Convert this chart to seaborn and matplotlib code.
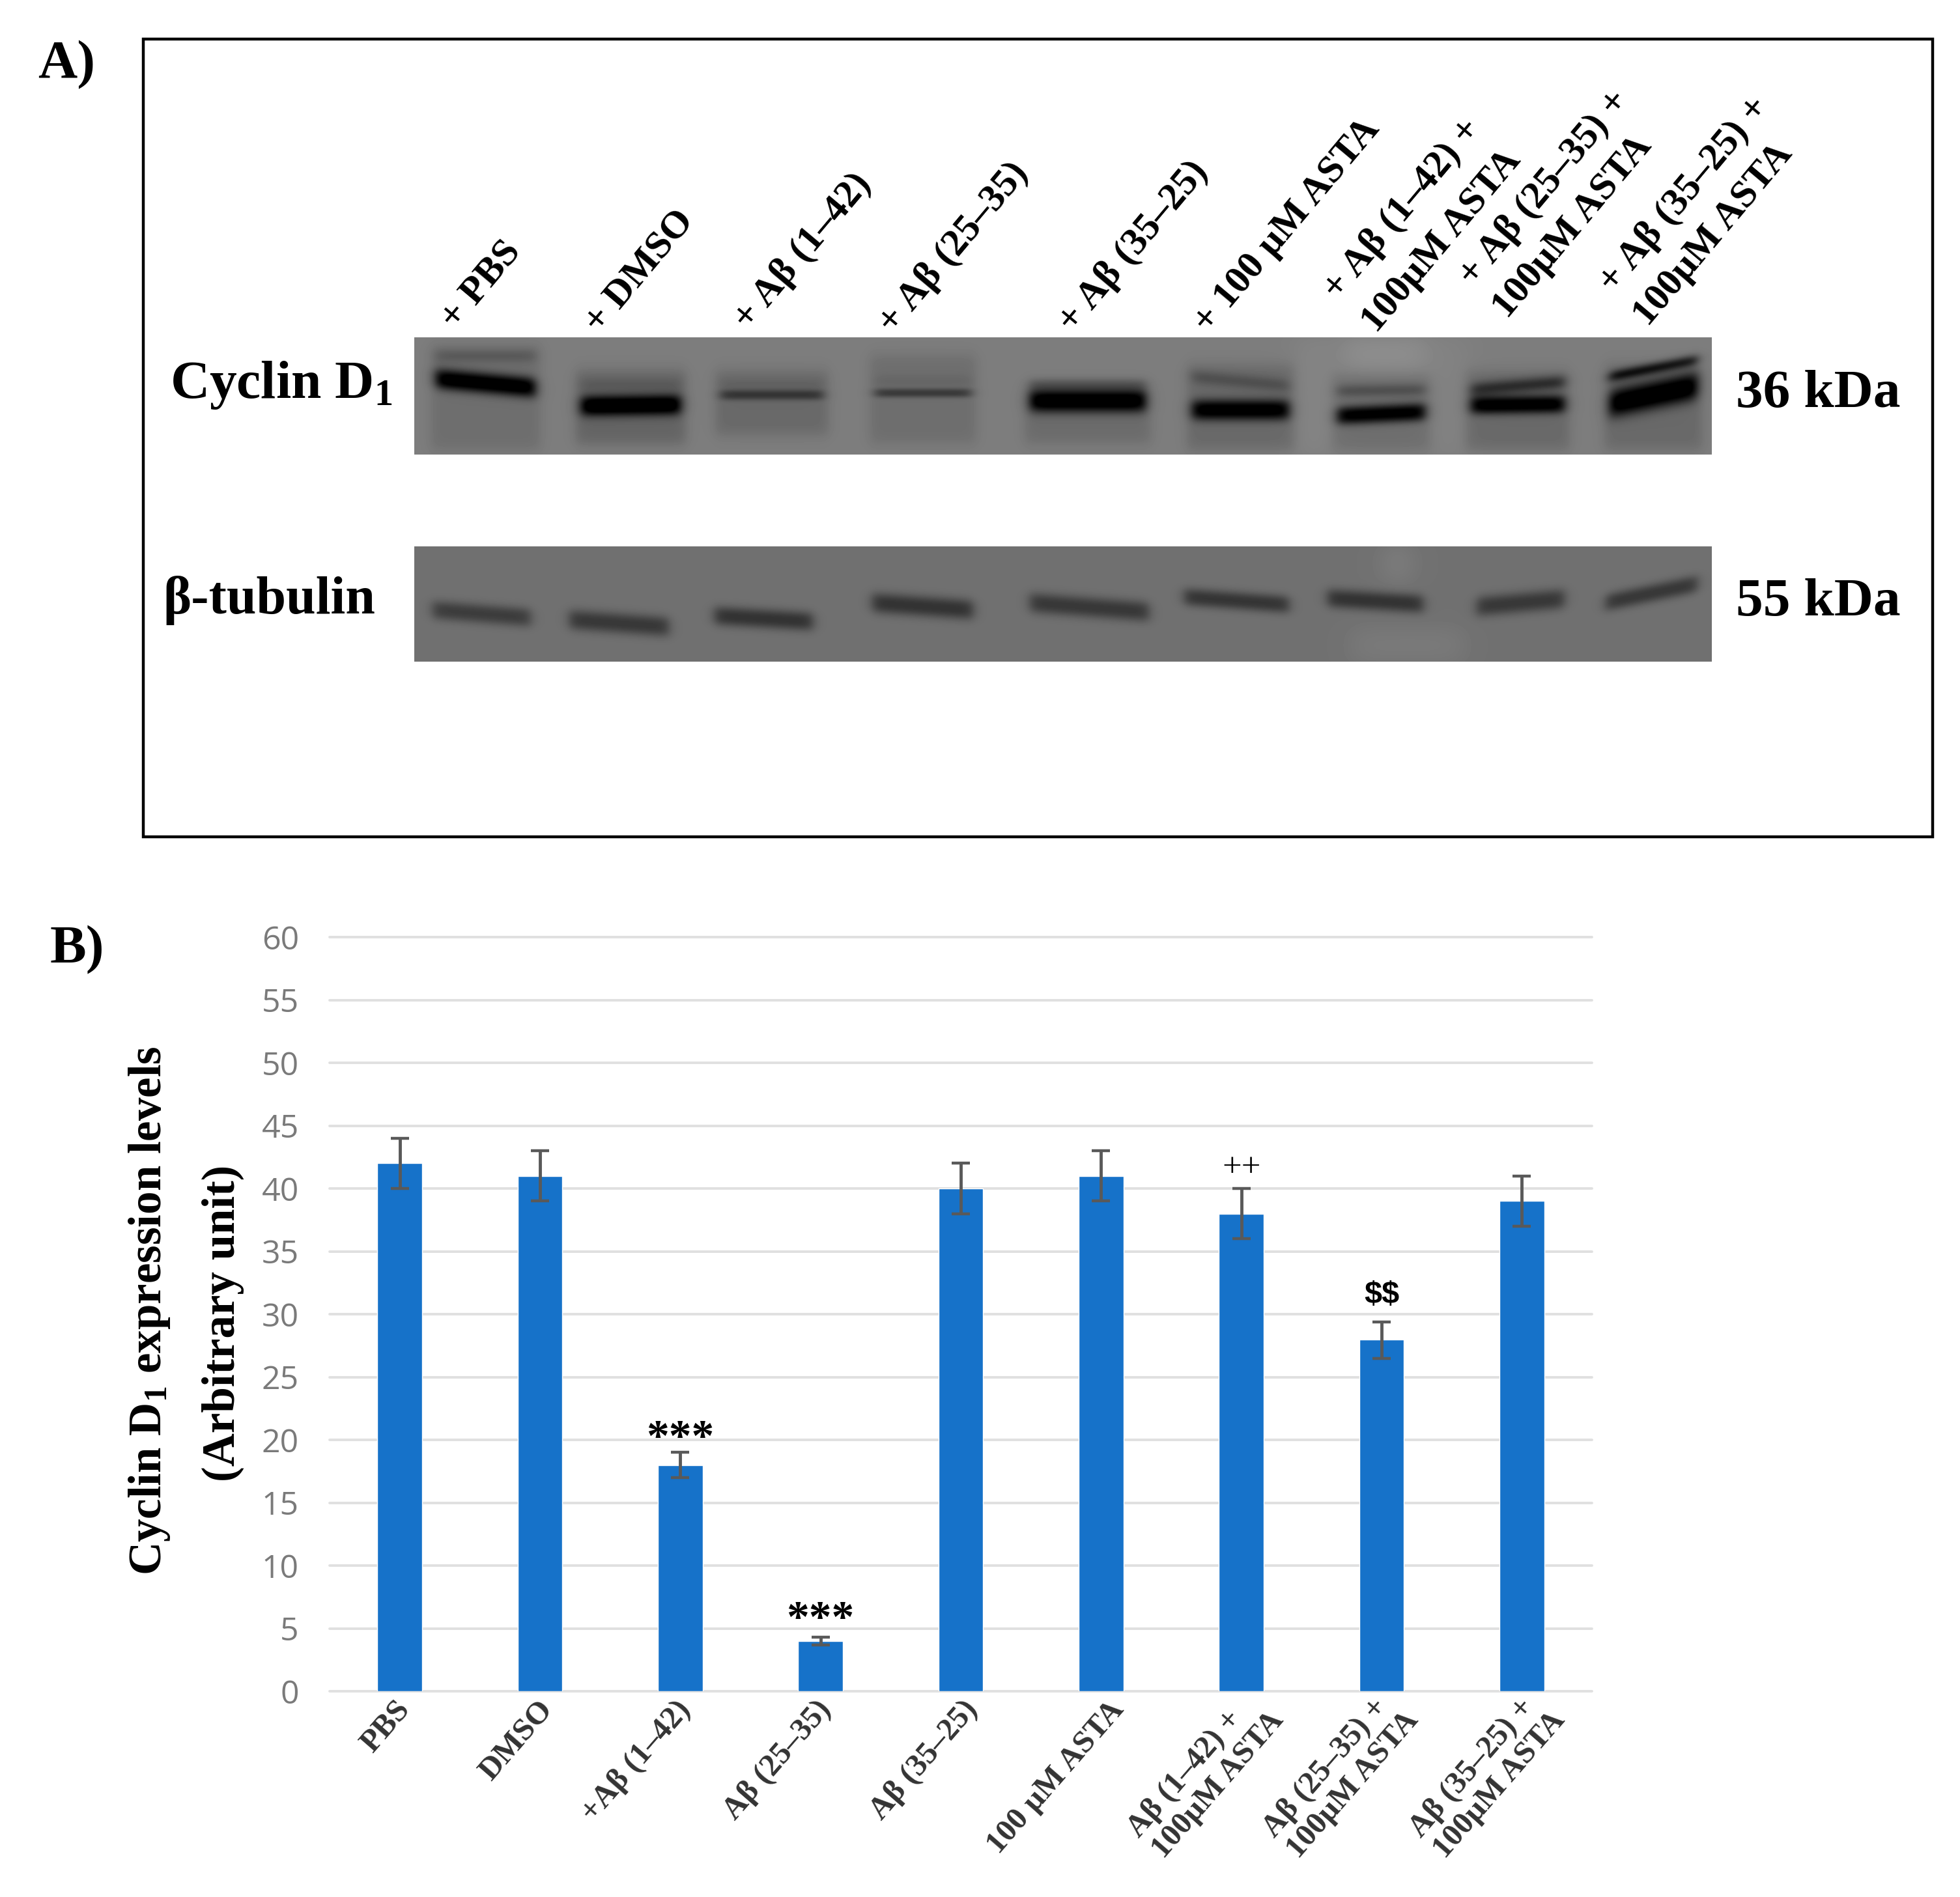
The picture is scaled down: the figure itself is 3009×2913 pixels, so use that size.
import matplotlib
matplotlib.use("Agg")
import matplotlib.pyplot as plt
import matplotlib.patches as patches
import matplotlib.transforms as mtrans
import numpy as np
import pandas as pd
import seaborn as sns

# Bar chart data
categories = ['PBS', 'DMSO', '+A\u03b2 (1\u201342)', 'A\u03b2 (25\u201335)', 'A\u03b2 (35\u201325)', '100 \u00b5M ASTA',
              'A\u03b2 (1\u201342) +\n100\u00b5M ASTA', 'A\u03b2 (25\u201335) +\n100\u00b5M ASTA', 'A\u03b2 (35\u201325) +\n100\u00b5M ASTA']
values = [42, 41, 18, 4, 40, 41, 38, 28, 39]
err_low = [2, 2, 1, 0.3, 2, 2, 2, 1.5, 2]
err_high = [2, 2, 1, 0.3, 2, 2, 2, 1.4, 2]
y_ticks = list(range(0, 65, 5))

# Blot bands in pixels
lane_left_a = [669, 892, 1106, 1343, 1581, 1830, 2053, 2258, 2471]
lane_right_a = [821, 1044, 1263, 1490, 1758, 1978, 2187, 2401, 2605]
main_y0_a = [581, 623, 606, 603, 615, 629, 638, 622, 620]
main_y1_a = [595, 621, 606, 603, 615, 629, 632, 620, 592]
main_thick_a = [16, 16, 8, 7, 18, 16, 14, 14, 22]
main_dark_a = [0.5, 0.5, 0.2, 0.2, 0.5, 0.46, 0.46, 0.46, 0.5]
upper_y0_a = [546, 590, 590, 585, 589, 578, 600, 598, 578]
upper_y1_a = [546, 590, 590, 585, 589, 592, 598, 586, 552]
upper_thick_a = [11, 10, 10, 10, 9, 11, 10, 11, 9]
upper_dark_a = [0.08, 0.04, 0.03, 0.03, 0.1, 0.1, 0.12, 0.24, 0.36]
box_top_a = [530, 569, 569, 545, 590, 560, 575, 570, 560]
box_bottom_a = [690, 681, 667, 680, 680, 690, 690, 690, 690]
box_dark_a = [0.06, 0.1, 0.08, 0.06, 0.07, 0.08, 0.06, 0.08, 0.08]

lane_left_b = [664, 874, 1097, 1339, 1581, 1818, 2038, 2267, 2465]
lane_right_b = [814, 1026, 1247, 1493, 1763, 1978, 2184, 2401, 2605]
main_y0_b = [936, 951, 945, 925, 925, 916, 918, 931, 925]
main_y1_b = [948, 962, 954, 936, 939, 928, 927, 919, 896]
main_thick_b = [15, 16, 15, 16, 16, 14, 15, 16, 14]
main_dark_b = [0.2, 0.22, 0.24, 0.24, 0.22, 0.23, 0.24, 0.22, 0.22]

# Light smears on the membranes: x0, x1, y0, y1, amount
light_a = [(2060, 2190, 518, 570, 0.07), (1990, 2045, 518, 698, 0.03), (2195, 2255, 518, 698, 0.02)]
light_b = [(2125, 2165, 839, 890, 0.06), (2074, 2246, 965, 1016, 0.04)]

# Labels over the lanes (text, x and y of the first sign)
lane_labels = [
    ('+ PBS', 698, 487), ('+ DMSO', 919, 493), ('+ A\u03b2 (1\u201342)', 1148, 487),
    ('+ A\u03b2 (25\u201335)', 1370, 493), ('+ A\u03b2 (35\u201325)', 1646, 491), ('+ 100 \u00b5M ASTA', 1854, 493),
    ('+ A\u03b2 (1\u201342) +', 2053, 441), ('100\u00b5M ASTA', 2112, 492),
    ('+ A\u03b2 (25\u201335) +', 2261, 420), ('100\u00b5M ASTA', 2313, 470),
    ('+ A\u03b2 (35\u201325) +', 2476, 430), ('100\u00b5M ASTA', 2529, 482),
]

# Sideways offset of each category label from its bar, in pixels
label_shift = [8, 12, 8, 8, 18, 27, 38, 30, 40]

W, H = 3009, 2913
sns.set_style("white")
serif = ['Liberation Serif', 'DejaVu Serif']
plt.rcParams['font.family'] = serif
plt.rcParams['mathtext.default'] = 'regular'
plt.rcParams['text.color'] = 'black'


def smooth_box(t, a, b, soft):
    return 1 / (1 + np.exp((a - t) / soft)) * 1 / (1 + np.exp((t - b) / soft))


def make_gel(y0, y1, base, left, right, my0, my1, thick, dark, light,
             uy0=None, uy1=None, uthick=None, udark=None, btop=None, bbot=None, bdark=None):
    xs = np.arange(636, 2628)[None, :]
    ys = np.arange(y0, y1)[:, None]
    gel = np.full((y1 - y0, 2628 - 636), base, dtype=float)
    for i in range(len(left)):
        across = smooth_box(xs, left[i], right[i], 5)
        slope = (xs - left[i]) / (right[i] - left[i])
        if btop is not None:
            gel -= bdark[i] * smooth_box(xs, left[i] - 8, right[i] + 8, 5) * smooth_box(ys, btop[i], bbot[i], 6)
        if uy0 is not None:
            centre = uy0[i] + (uy1[i] - uy0[i]) * slope
            gel -= udark[i] * across * np.exp(-np.abs((ys - centre) / uthick[i]) ** 2)
        centre = my0[i] + (my1[i] - my0[i]) * slope
        gel -= dark[i] * across * np.exp(-np.abs((ys - centre) / thick[i]) ** 2.4)
    for x0, x1, yy0, yy1, amount in light:
        gel += amount * smooth_box(xs, x0, x1, 12) * smooth_box(ys, yy0, yy1, 10)
    return np.clip(gel, 0, 1)


fig = plt.figure(figsize=(W / 100, H / 100), dpi=100, facecolor='white')

# Whole-figure axes in pixels for panel A and the free text
page = fig.add_axes([0, 0, 1, 1], zorder=1)
page.set_xlim(0, W)
page.set_ylim(H, 0)
page.axis('off')
page.patch.set_alpha(0)

page.add_patch(patches.Rectangle((220, 60), 2747, 1225, fill=False, edgecolor='black', linewidth=3.2))

gel_a = make_gel(518, 698, 0.49, lane_left_a, lane_right_a, main_y0_a, main_y1_a, main_thick_a, main_dark_a, light_a,
                 upper_y0_a, upper_y1_a, upper_thick_a, upper_dark_a, box_top_a, box_bottom_a, box_dark_a)
gel_b = make_gel(839, 1016, 0.44, lane_left_b, lane_right_b, main_y0_b, main_y1_b, main_thick_b, main_dark_b, light_b)
page.imshow(gel_a, cmap='gray', vmin=0, vmax=1, extent=(636, 2628, 698, 518), aspect='auto', interpolation='bilinear')
page.imshow(gel_b, cmap='gray', vmin=0, vmax=1, extent=(636, 2628, 1016, 839), aspect='auto', interpolation='bilinear')
page.set_xlim(0, W)
page.set_ylim(H, 0)

for text, x, y in lane_labels:
    page.text(x - 10, y + 12, text, fontsize=43, fontweight='bold', rotation=50, rotation_mode='anchor',
              ha='left', va='center')

page.text(58, 119, 'A)', fontsize=60, fontweight='bold', va='baseline')
page.text(77, 1478, 'B)', fontsize=60, fontweight='bold', va='baseline')
page.text(261, 611, 'Cyclin $\\mathregular{D_1}$', fontsize=60, fontweight='bold', va='baseline')
page.text(250, 942, '\u03b2-tubulin', fontsize=59, fontweight='bold', va='baseline')
page.text(2665, 625, '36 kDa', fontsize=60, fontweight='bold', va='baseline')
page.text(2665, 945, '55 kDa', fontsize=60, fontweight='bold', va='baseline')
page.text(230, 2013, 'Cyclin $\\mathregular{D_1}$ expression levels', fontsize=51, fontweight='bold',
          rotation=90, ha='center', va='center')
page.text(342, 2032, '(Arbitrary unit)', fontsize=51, fontweight='bold', rotation=90, ha='center', va='center')

# Bar chart
df = pd.DataFrame({'group': categories, 'value': values})
ax = fig.add_axes([506 / W, 1 - 2597 / H, (2444 - 506) / W, (2597 - 1439) / H], zorder=2)
ax.patch.set_alpha(0)
sns.barplot(data=df, x='group', y='value', color='#1672C9', saturation=1, width=0.32, errorbar=None, ax=ax, zorder=2)
ax.errorbar(range(len(values)), values, yerr=[err_low, err_high], fmt='none', ecolor='#595959',
            elinewidth=3.5, capsize=10, capthick=3.2, zorder=3)

ax.set_xlim(-0.5, 8.5)
ax.set_ylim(0, 60)
ax.set_xlabel('')
ax.set_ylabel('')
ax.set_yticks(y_ticks)
ax.grid(axis='y', color='#E0E0E0', linewidth=2.8, clip_on=False)
ax.set_axisbelow(True)
for gridline in ax.get_ygridlines():
    gridline.set_clip_on(False)
sns.despine(ax=ax, left=True, bottom=True, top=True, right=True)
ax.tick_params(axis='y', length=0, pad=34, labelsize=36, labelcolor='#7A7A7A')
ax.tick_params(axis='x', length=0, pad=15)
for label in ax.get_yticklabels():
    label.set_family('Open Sans')

for label, px in zip(ax.get_xticklabels(), label_shift):
    label.set(rotation=49, ha='right', va='center', rotation_mode='anchor', fontsize=35, fontweight='bold',
              color='#333333', linespacing=1.15, multialignment='left')
    shift = mtrans.ScaledTranslation(px / 100, 0, fig.dpi_scale_trans)
    label.set_transform(label.get_transform() + shift)

# Significance marks, anchored to bar positions
ax.text(2, 19.1, '***', fontsize=50, fontweight='bold', ha='center', va='baseline', zorder=4)
ax.text(3, 4.7, '***', fontsize=50, fontweight='bold', ha='center', va='baseline', zorder=4)
ax.text(6, 41.0, '++', fontsize=38, ha='center', va='baseline', zorder=4)
ax.text(7, 30.9, '$$', fontsize=35, fontweight='bold', family='Liberation Sans', ha='center', va='baseline',
        parse_math=False, zorder=4)

fig.savefig('out.png', dpi=100, facecolor='white')
